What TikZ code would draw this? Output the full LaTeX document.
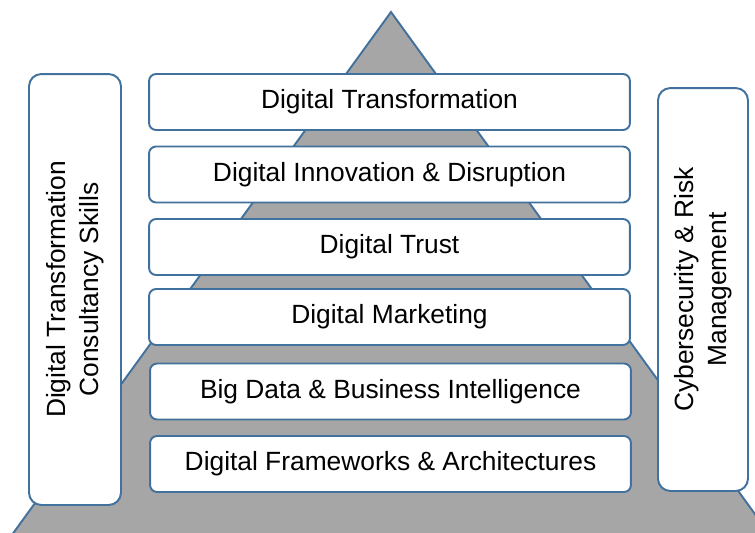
\documentclass[tikz,border=0pt]{standalone}
\usepackage{fontspec}
\setmainfont{Liberation Sans}
\definecolor{edgeblue}{RGB}{65,113,156}
\definecolor{pyrgray}{RGB}{166,166,166}

\begin{document}
\begin{tikzpicture}[x=0.02cm, y=-0.02cm]
    \useasboundingbox (0,0) rectangle (755,532);
    \clip (0,0) rectangle (755,532);
    \tikzstyle{lnode} = [draw=edgeblue, line width=1.1pt, fill=white, rectangle,
      rounded corners = 4pt, minimum width = 9.62cm, minimum height = 1.12cm,
      inner sep = 0pt, font=\fontsize{15pt}{18.5pt}\selectfont]
    \tikzstyle{snode} = [draw=edgeblue, line width=1.1pt, fill=white, rectangle,
      rounded corners = 7pt, rotate = 90, align=center, inner sep = 0pt,
      font=\fontsize{15pt}{19pt}\selectfont]

    % pyramid
    \coordinate (apex) at (391,12);
    \coordinate (bl) at (1,550);
    \coordinate (br) at (781,550);
    \draw[draw=edgeblue, line width=1.1pt, fill=pyrgray] (apex) -- (bl) -- (br) -- cycle;

    % layers
    \node[lnode] (trans) at (389.5,102) {Digital Transformation};
    \node[lnode] (innov) at (389.5,174.5) {Digital Innovation \& Disruption};
    \node[lnode] (trust) at (389.5,247) {Digital Trust};
    \node[lnode] (market) at (389.5,317) {Digital Marketing};
    \node[lnode] (bigdata) at (390.5,391.5) {Big Data \& Business Intelligence};
    \node[lnode] (frame) at (390.5,464) {Digital Frameworks \& Architectures};

    % side pillars
    \node[snode, minimum width = 8.62cm, minimum height = 1.84cm] (consult) at (75,289.5)
      {Digital Transformation\\Consultancy Skills};
    \node[snode, minimum width = 8.06cm, minimum height = 1.80cm] (cyber) at (703,289.5)
      {Cybersecurity \& Risk\\Management};
\end{tikzpicture}
\end{document}
